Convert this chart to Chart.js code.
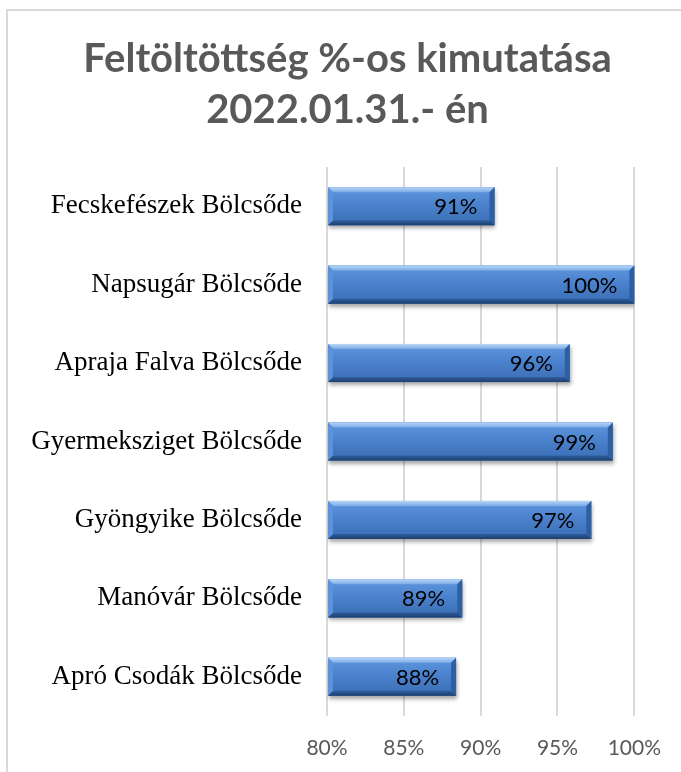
<!DOCTYPE html>
<html>
<head>
<meta charset="utf-8">
<script src="https://cdn.jsdelivr.net/npm/chart.js@4/dist/chart.umd.min.js"></script>
<style>
html,body{margin:0;padding:0;background:#fff;}
#wrap{width:681px;height:772px;position:relative;}
</style>
</head>
<body>
<div id="wrap"><canvas id="c" width="681" height="772"></canvas></div>
<script>
const titleLines = ['Feltöltöttség %-os kimutatása', '2022.01.31.- én'];
const categories = ['Fecskefészek Bölcsőde','Napsugár Bölcsőde','Apraja Falva Bölcsőde','Gyermeksziget Bölcsőde','Gyöngyike Bölcsőde','Manóvár Bölcsőde','Apró Csodák Bölcsőde'];
const values = [0.909, 1.0, 0.958, 0.986, 0.972, 0.888, 0.884];
const xTicks = [0.80, 0.85, 0.90, 0.95, 1.00];
const axisMin = 0.80;
const axisMax = 1.00;

const framePlugin = {
  id:'frame',
  afterLayout(chart){
    if (chart.titleBlock) { chart.titleBlock.left = 60; }
  },
  beforeDraw(chart){
    const c = chart.ctx;
    c.save();
    c.fillStyle = '#fff';
    c.fillRect(0,0,chart.width,chart.height);
    c.strokeStyle = '#D9D9D9';
    c.lineWidth = 2;
    c.beginPath();
    c.moveTo(7, chart.height);
    c.lineTo(7, 10);
    c.lineTo(chart.width, 10);
    c.stroke();
    c.restore();
  }
};

const bevelPlugin = {
  id:'bevel',
  beforeDatasetsDraw(chart){
    const c = chart.ctx;
    c.save();
    c.shadowColor = 'rgba(0,0,0,0.35)';
    c.shadowBlur = 4;
    c.shadowOffsetX = 1;
    c.shadowOffsetY = 3;
  },
  afterDatasetsDraw(chart){
    const c = chart.ctx;
    c.restore();
    const meta = chart.getDatasetMeta(0);
    c.save();
    meta.data.forEach((el, i) => {
      const p = el.getProps(['x','y','base','height'], true);
      const L = Math.min(p.base, p.x), R = Math.max(p.base, p.x), T = p.y - p.height/2, B = p.y + p.height/2, b = 5;
      const g = c.createLinearGradient(0, T, 0, B);
      g.addColorStop(0, '#5F97DE');
      g.addColorStop(0.45, '#4B82CD');
      g.addColorStop(1, '#3A6DB3');
      c.fillStyle = g;
      c.fillRect(L, T, R-L, B-T);
      const gt = c.createLinearGradient(0, T, 0, T+b);
      gt.addColorStop(0, '#B7D5F7');
      gt.addColorStop(1, '#7BAAE6');
      c.fillStyle = gt;
      c.beginPath(); c.moveTo(L,T); c.lineTo(R,T); c.lineTo(R-b,T+b); c.lineTo(L+b,T+b); c.closePath(); c.fill();
      const gb = c.createLinearGradient(0, B-b, 0, B);
      gb.addColorStop(0, '#2E5E9E');
      gb.addColorStop(1, '#1E3F6C');
      c.fillStyle = gb;
      c.beginPath(); c.moveTo(L,B); c.lineTo(R,B); c.lineTo(R-b,B-b); c.lineTo(L+b,B-b); c.closePath(); c.fill();
      c.fillStyle = '#2D5FA3';
      c.beginPath(); c.moveTo(R,T); c.lineTo(R,B); c.lineTo(R-b,B-b); c.lineTo(R-b,T+b); c.closePath(); c.fill();
      c.fillStyle = '#5B92DB';
      c.beginPath(); c.moveTo(L,T); c.lineTo(L,B); c.lineTo(L+b,B-b); c.lineTo(L+b,T+b); c.closePath(); c.fill();
      c.fillStyle = '#000';
      c.font = '22px Lato';
      c.textAlign = 'right';
      c.textBaseline = 'middle';
      c.fillText(Math.round(values[i]*100) + '%', R - 17, p.y + 1);
    });
    c.restore();
  }
};

new Chart(document.getElementById('c'), {
  type:'bar',
  data:{
    labels: categories,
    datasets:[{
      data: values,
      base: axisMin,
      backgroundColor:'#4F81BD',
      borderWidth:0,
      barPercentage:0.485,
      categoryPercentage:1.0
    }]
  },
  plugins:[framePlugin, bevelPlugin],
  options:{
    indexAxis:'y',
    responsive:false,
    animation:false,
    devicePixelRatio:1,
    layout:{padding:{left:0,right:46,top:0,bottom:0}},
    plugins:{
      legend:{display:false},
      tooltip:{enabled:false},
      title:{
        display:true,
        text:titleLines,
        color:'#595959',
        font:{family:'Lato', size:40, weight:'bold', lineHeight:51/40},
        padding:{top:34, bottom:31}
      }
    },
    scales:{
      x:{
        min:axisMin, max:axisMax,
        afterBuildTicks(scale){ scale.ticks = xTicks.map(v => ({value:v})); },
        afterFit(scale){ scale.height = 56; },
        grid:{color:'#D9D9D9', lineWidth:2, drawTicks:false},
        border:{display:false},
        ticks:{
          color:'#595959',
          font:{family:'Lato', size:21},
          padding:20,
          callback:(v)=> Math.round(v*100) + '%'
        }
      },
      y:{
        afterFit(scale){ scale.width = 327; },
        grid:{display:false},
        border:{display:false},
        ticks:{
          color:'#000',
          font:{family:'Liberation Serif', size:27},
          padding:17
        }
      }
    }
  }
});
</script>
</body>
</html>
